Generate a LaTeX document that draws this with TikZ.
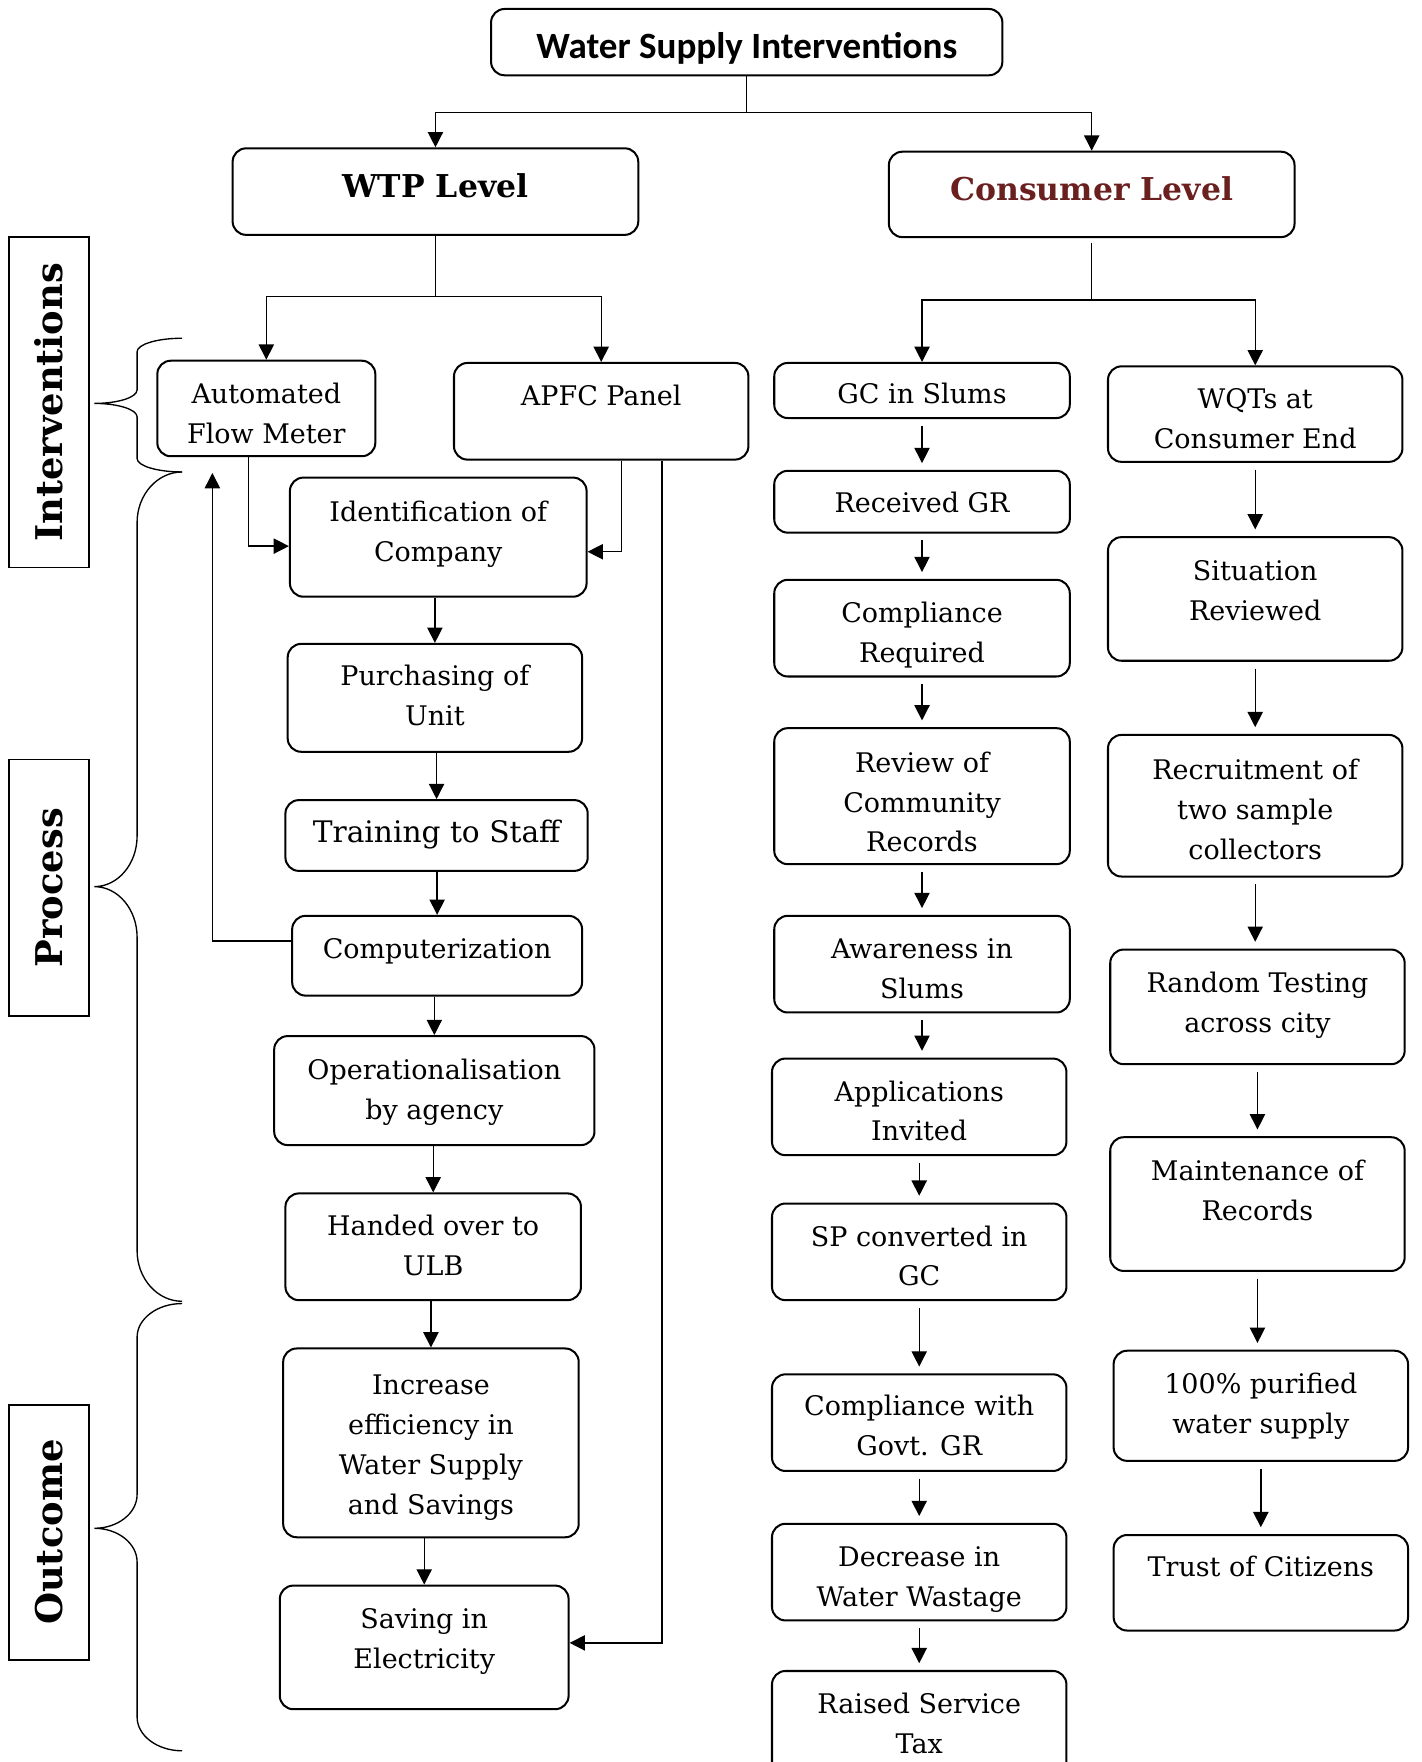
\documentclass[tikz,border=0pt]{standalone}
\usepackage{fontspec}
\setmainfont{DejaVu Serif}
\newfontfamily\calibfont{Carlito}
\usetikzlibrary{arrows.meta,calc}
\definecolor{consred}{HTML}{6B2020}
\newcommand{\bodyfont}{\fontsize{12}{17.75}\selectfont}
\newcommand{\hdfont}{\fontsize{14}{17}\selectfont\bfseries}
\newcommand{\labfont}{\fontsize{16.4}{19}\selectfont\bfseries}
% #1 options, #2 name, #3 left, #4 top, #5 right, #6 bottom, #7 text centre y, #8 text
\newcommand{\wbox}[8][]{\pgfmathsetmacro{\wraise}{((#4+#6)/2-#7-2)*0.5}\node[box,minimum width={(#5-#3)*0.5pt},minimum height={(#6-#4)*0.5pt},#1] (#2) at ({(#3+#5)/2},{(#4+#6)/2}) {\raisebox{\wraise pt}[\height][\depth]{\begin{tabular}{@{}c@{}}#8\end{tabular}}};}
\newcommand{\wbrace}[4]{\draw[brc] (162,#1) .. controls (140,#1) and (122,{#1+0.45*#4}) .. (122,{#1+#4}) -- (122,{#2-#4}) .. controls (122,{#2-0.45*#4}) and (105,#2) .. (84,#2) .. controls (105,#2) and (122,{#2+0.45*#4}) .. (122,{#2+#4}) -- (122,{#3-#4}) .. controls (122,{#3-0.45*#4}) and (140,#3) .. (162,#3);}
\begin{document}
\begin{tikzpicture}[x=0.5pt,y=-0.5pt,
  box/.style={draw,rounded corners=6pt,line width=0.9pt,inner sep=0pt,align=center,font=\bodyfont},
  lab/.style={draw,line width=0.75pt,inner sep=0pt,rotate=90,font=\labfont},
  ln/.style={line width=0.6pt},
  arr/.style={line width=0.6pt,-{Triangle[length=6.8pt,width=6.8pt]}},
  garr/.style={arr,shorten <=3pt,shorten >=3pt},
  brc/.style={line width=0.6pt}]
\useasboundingbox (0,0) rectangle (1265,1568);

% top level
\wbox[font=\calibfont\fontsize{16.5}{20}\selectfont\bfseries]{title}{437}{8}{892}{67}{42}{Water Supply Interventions}
\wbox[font=\hdfont]{wtp}{207}{132}{568}{209}{167}{WTP Level}
\wbox[font=\hdfont,text=consred]{cons}{791}{135}{1152}{211}{170}{Consumer Level}

% WTP column
\wbox{afm}{140}{321}{334}{406}{367.5}{Automated\\Flow Meter}
\wbox{apfc}{404}{323}{666}{409}{352}{APFC Panel}
\wbox{ident}{258}{425}{522}{531}{473}{Identification of\\Company}
\wbox{purch}{256}{573}{518}{669}{619}{Purchasing of\\Unit}
\wbox[font=\fontsize{13.2}{17.75}\selectfont]{train}{254}{712}{523}{775}{741}{Training to Staff}
\wbox{comp}{260}{815}{518}{886}{844}{Computerization}
\wbox{oper}{244}{922}{529}{1019}{969}{Operationalisation\\by agency}
\wbox{hand}{254}{1062}{517}{1157}{1108.5}{Handed over to\\ULB}
\wbox{incr}{252}{1200}{515}{1368}{1285}{Increase\\efficiency in\\Water Supply\\and Savings}
\wbox{save}{249}{1411}{506}{1521}{1458}{Saving in\\Electricity}

% consumer middle column
\wbox{gc}{689}{323}{952}{372}{350}{GC in Slums}
\wbox{recv}{689}{419}{952}{474}{447}{Received GR}
\wbox{compreq}{689}{516}{952}{602}{562.5}{Compliance\\Required}
\wbox{review}{689}{648}{952}{769}{713.5}{Review of\\Community\\Records}
\wbox{aware}{689}{815}{952}{901}{861.5}{Awareness in\\Slums}
\wbox{appl}{687}{942}{949}{1028}{988.5}{Applications\\Invited}
\wbox{sp}{687}{1071}{949}{1157}{1117.5}{SP converted in\\GC}
\wbox{compgov}{687}{1223}{949}{1309}{1268.5}{Compliance with\\Govt. GR}
\wbox{decr}{687}{1356}{949}{1442}{1402.5}{Decrease in\\Water Wastage}
\wbox{raised}{687}{1487}{949}{1580}{1533.5}{Raised Service\\Tax}

% consumer right column
\wbox{wqt}{986}{326}{1248}{411}{372}{WQTs at\\Consumer End}
\wbox{sit}{986}{478}{1248}{588}{525}{Situation\\Reviewed}
\wbox{recr}{986}{654}{1248}{780}{720}{Recruitment of\\two sample\\collectors}
\wbox{rand}{988}{845}{1250}{947}{892}{Random Testing\\across city}
\wbox{maint}{988}{1012}{1250}{1131}{1059}{Maintenance of\\Records}
\wbox{pure}{991}{1202}{1253}{1300}{1249}{100\% purified\\water supply}
\wbox{trust}{991}{1366}{1253}{1451}{1394}{Trust of Citizens}

% side labels
\node[lab,minimum width=147pt,minimum height=35.5pt] (lint) at (43.5,358) {Interventions};
\node[lab,minimum width=114pt,minimum height=35.5pt] (lproc) at (43.5,790) {Process};
\node[lab,minimum width=113.5pt,minimum height=35.5pt] (lout) at (43.5,1363.5) {Outcome};

% braces
\wbrace{301}{359}{420}{12}
\wbrace{420}{789}{1158}{45}
\wbrace{1160}{1360}{1558}{30}

% top connectors
\coordinate (j0) at ($(title.south)+(0,32)$);
\draw[ln] (title.south) -- (j0);
\draw[arr] (j0) -| (wtp.north);
\draw[arr] (j0) -| (cons.north);
\coordinate (j1) at ($(wtp.south)+(0,54)$);
\draw[ln] (wtp.south) -- (j1);
\draw[arr] (j1) -| (afm.north);
\draw[arr] (j1) -| (apfc.north);
\coordinate (j2) at ($(cons.south)+(0,55)$);
\draw[ln] ($(cons.south)+(0,4)$) -- (j2);
\draw[arr] (j2) -| (gc.north);
\draw[arr] (j2) -| (wqt.north);

% WTP column connectors
\draw[arr] ($(afm.south)+(-16,0)$) |- ($(ident.west)+(0,8)$);
\draw[arr] ($(apfc.south)+(18,0)$) |- ($(ident.east)+(0,13)$);
\draw[arr] ($(apfc.south)+(54,0)$) |- ($(save.east)+(0,-4)$);
\draw[arr] ($(comp.west)+(0,-13)$) -| ($(afm.south)+(-48,14)$);
\draw[arr] (ident.south -| purch.north) -- (purch.north);
\draw[arr] (purch.south -| train.north) -- (train.north);
\draw[arr] (train.south -| comp.north) -- (comp.north);
\draw[arr] (comp.south -| oper.north) -- (oper.north);
\draw[arr] (oper.south -| hand.north) -- (hand.north);
\draw[arr] (hand.south -| incr.north) -- (incr.north);
\draw[arr] (incr.south -| save.north) -- (save.north);

% middle column connectors
\draw[garr] (gc.south) -- (gc.south |- recv.north);
\draw[garr] (recv.south) -- (recv.south |- compreq.north);
\draw[garr] (compreq.south) -- (compreq.south |- review.north);
\draw[garr] (review.south) -- (review.south |- aware.north);
\draw[garr] (aware.south) -- (aware.south |- appl.north);
\draw[garr] (appl.south) -- (appl.south |- sp.north);
\draw[garr] (sp.south) -- (sp.south |- compgov.north);
\draw[garr] (compgov.south) -- (compgov.south |- decr.north);
\draw[garr] (decr.south) -- (decr.south |- raised.north);

% right column connectors
\draw[garr] (wqt.south) -- (wqt.south |- sit.north);
\draw[garr] (sit.south) -- (sit.south |- recr.north);
\draw[garr] (recr.south) -- (recr.south |- rand.north);
\draw[garr] (rand.south) -- (rand.south |- maint.north);
\draw[garr] (maint.south) -- (maint.south |- pure.north);
\draw[garr] (pure.south) -- (pure.south |- trust.north);
\end{tikzpicture}
\end{document}
